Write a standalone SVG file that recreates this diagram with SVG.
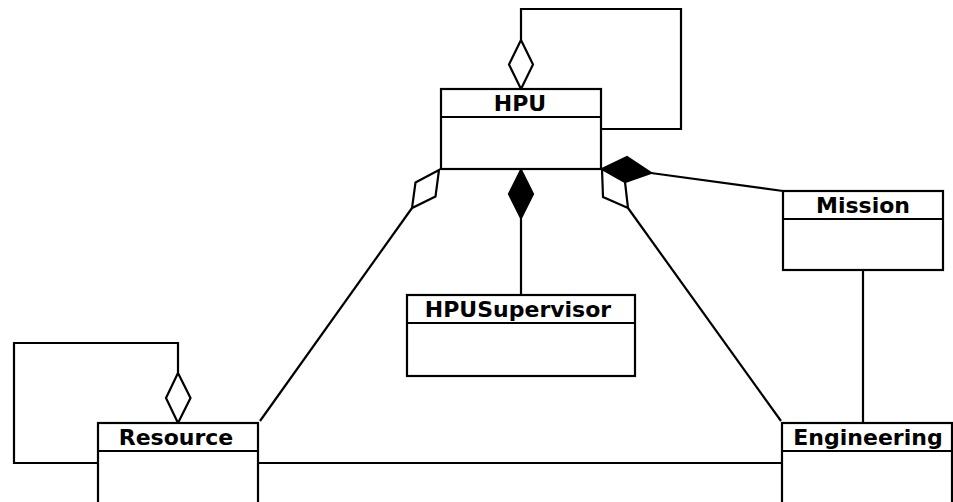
<svg xmlns="http://www.w3.org/2000/svg" width="953" height="502" viewBox="0 0 953 502">
<style>
.box{fill:#fff;stroke:#000;stroke-width:2.2}
.div{stroke:#000;stroke-width:2.2}
.t{font-family:"DejaVu Sans",sans-serif;font-weight:bold;font-size:22px;text-anchor:middle;fill:#000}
.ln{fill:none;stroke:#000;stroke-width:2.2}
.od{fill:#fff;stroke:#000;stroke-width:2.2;stroke-linejoin:miter}
.fd{fill:#000;stroke:#000;stroke-width:2.2}
</style>
<rect width="953" height="502" fill="#fff"/>
<g id="connectors">
  <polyline class="ln" points="521,40 521,9 681,9 681,129 601,129"/>
  <polygon class="od" points="521,89 533,64.5 521,40 509,64.5"/>
  <line class="ln" x1="521" y1="218" x2="521" y2="295"/>
  <polygon class="fd" points="521,170 533,194 521,218 509,194"/>
  <line class="ln" x1="412" y1="208" x2="260" y2="421"/>
  <polygon class="od" points="439,170 415.5,182.5 412,208 435.5,196.5"/>
  <line class="ln" x1="651" y1="173" x2="783" y2="191"/>
  <polygon class="fd" points="602,169 627,157 651,173 625,182"/>
  <line class="ln" x1="628" y1="208" x2="781" y2="421"/>
  <polygon class="od" points="602,169 625,182 628,208 603,197"/>
  <line class="ln" x1="863" y1="270" x2="863" y2="423"/>
  <line class="ln" x1="258" y1="463" x2="782" y2="463"/>
  <polyline class="ln" points="178,373 178,343 14,343 14,463 98,463"/>
  <polygon class="od" points="178,423 190.5,398 178,373 166,398"/>
</g>
<g id="HPU">
  <rect class="box" x="441" y="89" width="160" height="80"/>
  <line class="div" x1="441" y1="117" x2="601" y2="117"/>
  <text class="t" x="520" y="111">HPU</text>
</g>
<g id="Mission">
  <rect class="box" x="783" y="191" width="160" height="79"/>
  <line class="div" x1="783" y1="219" x2="943" y2="219"/>
  <text class="t" x="863" y="213">Mission</text>
</g>
<g id="HPUSupervisor">
  <rect class="box" x="407" y="295" width="228" height="81"/>
  <line class="div" x1="407" y1="323" x2="635" y2="323"/>
  <text class="t" x="518" y="317">HPUSupervisor</text>
</g>
<g id="Resource">
  <rect class="box" x="98" y="423" width="160" height="100"/>
  <line class="div" x1="98" y1="451" x2="258" y2="451"/>
  <text class="t" x="176" y="445">Resource</text>
</g>
<g id="Engineering">
  <rect class="box" x="782" y="423" width="170" height="100"/>
  <line class="div" x1="782" y1="451" x2="952" y2="451"/>
  <text class="t" x="868" y="445">Engineering</text>
</g>
</svg>
